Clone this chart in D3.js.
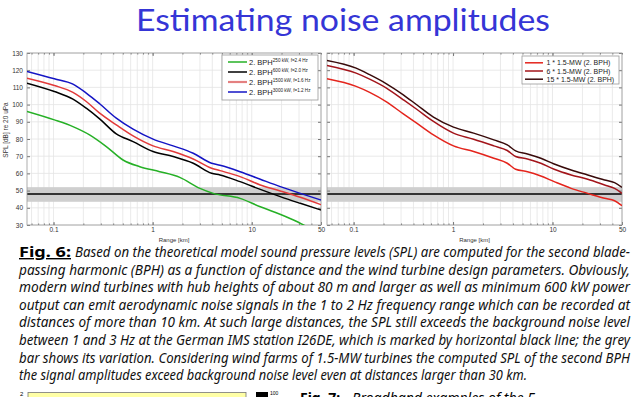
<!DOCTYPE html>
<html>
<head>
<meta charset="utf-8">
<script src="https://cdn.jsdelivr.net/npm/d3@7"></script>
<style>
  body { margin: 0; background: #fff; }
  svg { display: block; }
</style>
</head>
<body>
<div class="container"></div>
<script>
// range in km, SPL in dB re 20 uPa
const bphRange = [0.054, 0.102, 0.157, 0.214, 0.292, 0.43, 0.635, 1.01, 1.61, 2.57, 3.94, 4.79, 7.63, 12.2, 19.4, 30.9, 50];
const bph3000 = [119.3, 115.0, 111.9, 106.7, 100.5, 92.1, 85.7, 79.9, 76.0, 71.7, 65.9, 64.7, 61.0, 56.6, 52.3, 48.4, 44.5];
const bph1500 = [115.4, 111.1, 107.1, 101.8, 95.0, 88.2, 81.8, 76.0, 72.7, 68.4, 63.0, 61.6, 58.1, 53.3, 49.8, 46.1, 41.8];
const bph600 = [112.5, 107.6, 103.2, 97.9, 91.7, 83.0, 78.5, 72.7, 69.8, 65.9, 60.1, 59.1, 55.2, 50.7, 46.5, 42.6, 38.7];
const greenRange = [0.054, 0.102, 0.157, 0.231, 0.341, 0.503, 0.742, 1.18, 1.88, 3.0, 4.09, 7.63, 12.2, 16.6, 26.4, 36.1];
const bph250 = [96.0, 91.1, 87.2, 82.4, 75.6, 67.8, 63.9, 61.0, 57.7, 51.3, 48.4, 45.5, 40.6, 37.7, 32.9, 29.0];

const farmRange = [0.054, 0.106, 0.145, 0.214, 0.316, 0.431, 0.635, 1.01, 1.61, 2.57, 3.51, 4.26, 5.6, 7.63, 10.4, 15.4, 22.6, 33.4, 42.1, 50];
const farm15 = [125.7, 121.2, 117.4, 112.1, 105.7, 99.9, 92.7, 86.9, 83.4, 79.5, 76.6, 73.1, 71.3, 68.8, 65.5, 62.0, 59.1, 56.2, 54.6, 51.9];
const farm6 = [122.8, 118.3, 114.8, 109.6, 102.8, 97.3, 90.2, 83.4, 79.9, 76.0, 73.3, 69.8, 68.4, 65.9, 62.4, 59.1, 56.6, 53.3, 51.3, 48.4];
const farm1 = [115.0, 110.6, 107.1, 101.6, 94.6, 89.2, 82.4, 76.0, 72.7, 68.8, 65.9, 62.4, 61.0, 58.5, 55.2, 51.3, 48.4, 45.5, 44.1, 41.2];

const noiseLevel = 48;
const noiseBand = [43.5, 52];

const yTicks = [30, 40, 50, 60, 70, 80, 90, 100, 110, 120, 130];
const xTicks = [0.1, 1, 10, 50];

const bphLabels = ['250 kW, f=2.4 Hz', '600 kW, f=2.0 Hz', '1500 kW, f=1.6 Hz', '3000 kW, f=1.2 Hz'];
const farmLabels = ['1 * 1.5-MW (2. BPH)', '6 * 1.5-MW (2. BPH)', '15 * 1.5-MW (2. BPH)'];

const captionLines = [
  'Based on the theoretical model sound pressure levels (SPL) are computed for the second blade-',
  'passing harmonic (BPH) as a function of distance and the wind turbine design parameters. Obviously,',
  'modern wind turbines with hub heights of about 80 m and larger as well as minimum 600 kW power',
  'output can emit aerodynamic noise signals in the 1 to 2 Hz frequency range which can be recorded at',
  'distances of more than 10 km. At such large distances, the SPL still exceeds the background noise level',
  'between 1 and 3 Hz at the German IMS station I26DE, which is marked by horizontal black line; the grey',
  'bar shows its variation. Considering wind farms of 1.5-MW turbines the computed SPL of the second BPH',
  'the signal amplitudes exceed background noise level even at distances larger than 30 km.'
];

const width = 640;
const height = 397;
const tickFont = '"Liberation Sans", Arial, sans-serif';

const svg = d3.select('.container')
  .append('svg')
  .attr('width', width)
  .attr('height', height);

svg.append('text')
  .attr('x', 343)
  .attr('y', 31)
  .attr('text-anchor', 'middle')
  .attr('textLength', 414)
  .attr('lengthAdjust', 'spacingAndGlyphs')
  .style('font-family', 'Lato, "Open Sans", sans-serif')
  .style('font-size', '30px')
  .style('fill', '#3535d6')
  .text('Estimating noise amplitudes');

const y = d3.scaleLinear().domain([30, 130]).range([225, 53]);

const drawPanel = (id, x0, x1, showY) => {
  const x = d3.scaleLog().domain([0.054, 50]).range([x0, x1]);
  const g = svg.append('g').attr('id', id);

  g.append('clipPath').attr('id', id + '-clip')
    .append('rect')
    .attr('x', x0).attr('y', y(130))
    .attr('width', x1 - x0).attr('height', y(30) - y(130));

  // grid
  g.append('g').selectAll('line')
    .data(x.ticks())
    .join('line')
    .attr('x1', (d) => x(d)).attr('x2', (d) => x(d))
    .attr('y1', y(130)).attr('y2', y(30))
    .attr('stroke', '#e4e4e4')
    .attr('stroke-width', 0.8);
  g.append('g').selectAll('line')
    .data(yTicks)
    .join('line')
    .attr('x1', x0).attr('x2', x1)
    .attr('y1', (d) => y(d)).attr('y2', (d) => y(d))
    .attr('stroke', '#e4e4e4')
    .attr('stroke-width', 0.8);

  // background noise band and level
  g.append('rect')
    .attr('x', x0).attr('width', x1 - x0)
    .attr('y', y(noiseBand[1]))
    .attr('height', y(noiseBand[0]) - y(noiseBand[1]))
    .attr('fill', '#cfcfcf');
  g.append('line')
    .attr('x1', x0).attr('x2', x1)
    .attr('y1', y(noiseLevel)).attr('y2', y(noiseLevel))
    .attr('stroke', '#000')
    .attr('stroke-width', 1.4);

  // axes with inward ticks
  g.append('g').attr('transform', `translate(0,${y(30)})`)
    .call(d3.axisBottom(x).tickValues(x.ticks()).tickFormat('').tickSize(-1.5));
  g.append('g').attr('transform', `translate(0,${y(130)})`)
    .call(d3.axisTop(x).tickValues(x.ticks()).tickFormat('').tickSize(-1.5));
  g.append('g').attr('transform', `translate(0,${y(130)})`)
    .call(d3.axisTop(x).tickValues([0.1, 1, 10]).tickFormat('').tickSize(-3));
  const xAxis = d3.axisBottom(x).tickValues(xTicks).tickFormat(d3.format('')).tickSize(-3).tickPadding(2);
  g.append('g').attr('class', 'xaxis').attr('transform', `translate(0,${y(30)})`).call(xAxis);

  const yAxis = d3.axisLeft(y).tickValues(yTicks).tickSize(-3).tickPadding(4)
    .tickFormat(showY ? d3.format('d') : '');
  g.append('g').attr('class', 'yaxis').attr('transform', `translate(${x0},0)`).call(yAxis);
  g.append('g').attr('transform', `translate(${x1},0)`)
    .call(d3.axisRight(y).tickValues(yTicks).tickSize(-3).tickFormat(''));

  g.selectAll('.domain').remove();
  g.selectAll('.tick line').attr('stroke', '#777');
  g.selectAll('.tick text')
    .style('font-family', tickFont)
    .style('font-size', '6.5px')
    .style('fill', '#333');

  g.append('rect')
    .attr('x', x0).attr('y', y(130))
    .attr('width', x1 - x0).attr('height', y(30) - y(130))
    .attr('fill', 'none')
    .attr('stroke', '#999')
    .attr('stroke-width', 0.8);

  g.append('text')
    .attr('x', (x0 + x1) / 2)
    .attr('y', 242)
    .attr('text-anchor', 'middle')
    .style('font-family', tickFont)
    .style('font-size', '6px')
    .style('fill', '#333')
    .text('Range [km]');

  return { g, x };
};

const addCurve = (panel, xs, ys, color) => {
  const line = d3.line()
    .x((d) => panel.x(d[0]))
    .y((d) => y(d[1]))
    .curve(d3.curveMonotoneX);
  panel.g.append('path')
    .datum(d3.zip(xs, ys))
    .attr('clip-path', `url(#${panel.g.attr('id')}-clip)`)
    .attr('d', line)
    .attr('fill', 'none')
    .attr('stroke', color)
    .attr('stroke-width', 1.5);
};

// left panel
const left = drawPanel('left', 27, 321, true);
const bphColors = ['#26b026', '#000000', '#e23a3a', '#1414c4'];
addCurve(left, greenRange, bph250, bphColors[0]);
addCurve(left, bphRange, bph600, bphColors[1]);
addCurve(left, bphRange, bph1500, bphColors[2]);
addCurve(left, bphRange, bph3000, bphColors[3]);

svg.append('text')
  .attr('transform', 'translate(8,130) rotate(-90)')
  .attr('text-anchor', 'middle')
  .style('font-family', tickFont)
  .style('font-size', '6.5px')
  .style('fill', '#333')
  .text('SPL [dB] re 20 uPa');

const legL = svg.append('g').attr('id', 'legend-left');
legL.append('rect')
  .attr('x', 222).attr('y', 55).attr('width', 96).attr('height', 45)
  .attr('fill', '#fff').attr('stroke', '#999').attr('stroke-width', 0.8);
bphLabels.forEach((lab, i) => {
  const ly = 62 + i * 10;
  legL.append('line')
    .attr('x1', 228).attr('x2', 247)
    .attr('y1', ly).attr('y2', ly)
    .attr('stroke', i === 2 ? '#e48080' : bphColors[i])
    .attr('stroke-width', i === 2 ? 2.2 : 1.5);
  const t = legL.append('text')
    .attr('x', 249).attr('y', ly + 2.6)
    .style('font-family', tickFont)
    .style('font-size', '7.5px')
    .style('fill', '#222');
  t.append('tspan').text('2. BPH');
  t.append('tspan').attr('dy', -2.6).style('font-size', '4.6px').text(lab);
});

// right panel
const right = drawPanel('right', 327, 622, false);
const farmColors = ['#e4241c', '#a3141a', '#380a0a'];
addCurve(right, farmRange, farm1, farmColors[0]);
addCurve(right, farmRange, farm6, farmColors[1]);
addCurve(right, farmRange, farm15, farmColors[2]);

const legR = svg.append('g').attr('id', 'legend-right');
legR.append('rect')
  .attr('x', 522).attr('y', 56).attr('width', 97).attr('height', 28)
  .attr('fill', '#fff').attr('stroke', '#999').attr('stroke-width', 0.8);
farmLabels.forEach((lab, i) => {
  const ly = 62.8 + i * 8.2;
  legR.append('line')
    .attr('x1', 525).attr('x2', 543)
    .attr('y1', ly).attr('y2', ly)
    .attr('stroke', farmColors[i])
    .attr('stroke-width', 1.5);
  legR.append('text')
    .attr('x', 546.5).attr('y', ly + 2.5)
    .style('font-family', tickFont)
    .style('font-size', '7px')
    .style('fill', '#222')
    .text(lab);
});

// caption
const capFont = '"Noto Sans", "Open Sans", sans-serif';
const capY = (i) => 257 + i * 17.6;
svg.append('text')
  .attr('x', 19).attr('y', capY(0))
  .attr('textLength', 52)
  .attr('lengthAdjust', 'spacingAndGlyphs')
  .style('font-family', capFont)
  .style('font-size', '14px')
  .style('font-weight', 'bold')
  .style('text-decoration', 'underline')
  .text('Fig. 6:');
captionLines.forEach((line, i) => {
  const x0 = i === 0 ? 75 : 19;
  const x1 = i === captionLines.length - 1 ? 527 : 630;
  svg.append('text')
    .attr('x', x0).attr('y', capY(i))
    .attr('textLength', x1 - x0)
    .attr('lengthAdjust', 'spacingAndGlyphs')
    .style('font-family', capFont)
    .style('font-size', '13.5px')
    .style('font-style', 'italic')
    .style('fill', '#111')
    .text(line);
});

// top edge of the next figure, cut by the page
const next = svg.append('g').attr('id', 'next-figure');
next.append('rect')
  .attr('x', 28).attr('y', 392.5).attr('width', 218).attr('height', 20)
  .attr('fill', '#ffffa6').attr('stroke', '#777').attr('stroke-width', 0.8);
next.append('text')
  .attr('x', 20).attr('y', 396)
  .style('font-family', tickFont).style('font-size', '6px').text('2');
next.append('rect')
  .attr('x', 256).attr('y', 392).attr('width', 12).attr('height', 10)
  .attr('fill', '#000');
next.append('text')
  .attr('x', 270).attr('y', 395)
  .style('font-family', tickFont).style('font-size', '5px').text('100');
next.append('text')
  .attr('x', 300).attr('y', 403)
  .style('font-family', capFont).style('font-size', '14px').style('font-weight', 'bold')
  .text('Fig. 7:');
next.append('text')
  .attr('x', 352).attr('y', 403)
  .style('font-family', capFont).style('font-size', '14px').style('font-style', 'italic')
  .text('Broadband examples of the F');
</script>
</body>
</html>
